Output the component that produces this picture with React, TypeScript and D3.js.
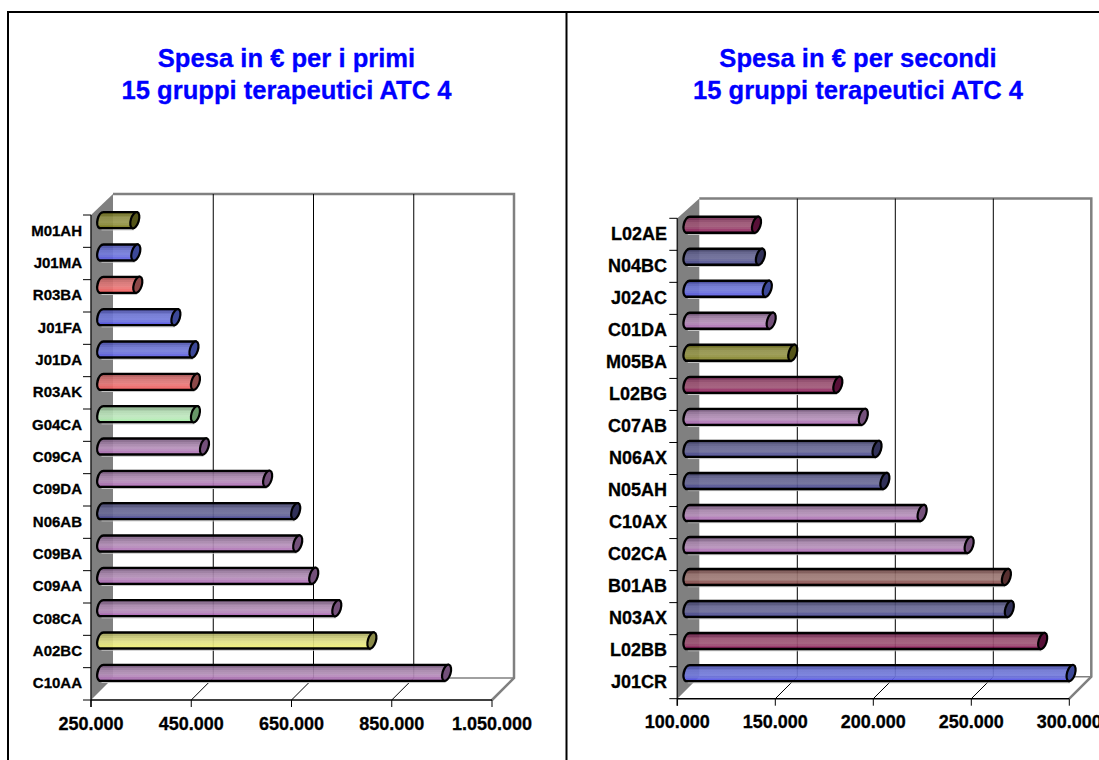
import React from "react";
import * as d3 from "d3";

const leftCategories = ["M01AH","J01MA","R03BA","J01FA","J01DA","R03AK","G04CA","C09CA","C09DA","N06AB","C09BA","C09AA","C08CA","A02BC","C10AA"];
const leftValues = [326,328,332,408,444,447,447,465,591,647,651,683,729,799,948];
const leftTicks = [250,450,650,850,1050];
const rightCategories = ["L02AE","N04BC","J02AC","C01DA","M05BA","L02BG","C07AB","N06AX","N05AH","C10AX","C02CA","B01AB","N03AX","L02BB","J01CR"];
const rightValues = [137.5,139.5,143,145,156,179,192,199,203,222,246,265,266.5,283.5,298];
const rightTicks = [100,150,200,250,300];

const palette: Record<string, string[]> = {
  C: ["#74567a","#a483a8","#b892bc","#ac68b4","#74507a"],
  A: ["#a0a058","#d0d07c","#e4e488","#f0f070","#8a8a48"],
  J: ["#4448a0","#6c74d0","#747cdc","#5656e4","#3c4898"],
  R: ["#a85252","#d47070","#e87c7c","#f25c5c","#8c4848"],
  G: ["#80a480","#b0d8b0","#c0e8c0","#a8eca8","#689868"],
  N: ["#404068","#646490","#6c6c98","#464690","#303058"],
  M: ["#666618","#909048","#98984e","#7e7e20","#545418"],
  L: ["#682048","#985070","#a05878","#8c1858","#581038"],
  B: ["#684040","#987470","#a07c78","#844444","#583030"],
};
const FONT = "'Liberation Sans', Arial, sans-serif";
const GREY = "#808080";
const fmt = (k: number) => d3.format(",.0f")(k * 1000).replace(/,/g, ".");

function Panel({ id, categories, values, ticks, x0, x1, bottom, top, backTop, depth, barDy, labelX, labelSize, tickY, title, titleX }: any) {
  const x = d3.scaleLinear().domain([ticks[0], ticks[ticks.length - 1]]).range([x0, x1]);
  const y = d3.scaleBand<string>().domain(categories).range([top, bottom]);
  const backBottom = bottom - depth;
  const inset = 5.7;
  return (
    <g fontFamily={FONT} fontWeight="bold">
      {title.map((t: string, i: number) => (
        <text key={t} x={titleX} y={67 + i * 32} textAnchor="middle" fontSize={25.6} fill="#0000ff" stroke="#0000ff" strokeWidth={0.3}>{t}</text>
      ))}
      <path d={`M${x0},${top}L${x0 + depth},${backTop}V${backBottom}L${x0},${bottom}Z`} fill={GREY} />
      <path d={`M${x0 + depth},${backTop}H${x1 + depth}V${backBottom}L${x1},${bottom}`} fill="none" stroke={GREY} strokeWidth={2.5} />
      <line x1={x0 + depth} x2={x1 + depth} y1={backBottom} y2={backBottom} stroke={GREY} strokeWidth={1.5} />
      {ticks.slice(1, -1).map((t: number) => (
        <g key={t} stroke="#000" strokeWidth={1}>
          <line x1={x(t) + depth} x2={x(t) + depth} y1={backTop} y2={backBottom} />
          <line x1={x(t)} x2={x(t) + depth} y1={bottom} y2={backBottom} />
        </g>
      ))}
      <line x1={x0} x2={x0} y1={top} y2={bottom + 7} stroke="#222" strokeWidth={1.5} />
      <line x1={x0} x2={x1} y1={bottom} y2={bottom} stroke="#000" strokeWidth={1.5} />
      {ticks.map((t: number) => (
        <g key={t}>
          <line x1={x(t)} x2={x(t)} y1={bottom} y2={bottom + 7} stroke="#000" strokeWidth={1} />
          <text x={x(t)} y={tickY} textAnchor="middle" fontSize={18} fill="#000" stroke="#000" strokeWidth={0.3}>{fmt(t)}</text>
        </g>
      ))}
      {[...categories, null].map((c: string | null, i: number) => {
        const yy = top + i * y.step();
        return <line key={i} x1={x0 - 8} x2={x0} y1={yy} y2={yy} stroke="#000" strokeWidth={1} />;
      })}
      {categories.map((c: string, i: number) => {
        const p = palette[c[0]];
        const cy = y(c)! + y.bandwidth() / 2 - barDy;
        const ex = x(values[i]) + inset;
        const sx = x0 + 10.5;
        const gid = `${id}-${c}`;
        const interp = d3.piecewise(d3.interpolateRgb, p.slice(0, 4));
        const n = 9;
        return (
          <g key={c}>
            <text x={labelX} y={y(c)! + y.bandwidth() / 2 + labelSize * 0.36 - 1} textAnchor="end" fontSize={labelSize} fill="#000" stroke="#000" strokeWidth={0.3}>{c}</text>
            <line x1={sx} x2={ex - 1} y1={cy + 9.7} y2={cy + 9.7} stroke="#c4c4c4" strokeWidth={1} />
            <defs>
              <linearGradient id={gid} x1="0" x2="0" y1="0" y2="1">
                {d3.range(n).flatMap((k) => [
                  <stop key={`a${k}`} offset={k / n} stopColor={interp(k / (n - 1))} />,
                  <stop key={`b${k}`} offset={(k + 1) / n} stopColor={interp(k / (n - 1))} />,
                ])}
              </linearGradient>
            </defs>
            <path
              d={`M${sx - 2},${cy + 8}A4.5,8.3 14 0 1 ${sx + 2},${cy - 8}H${ex + 2}L${ex - 2},${cy + 8}Z`}
              fill={`url(#${gid})`} fillOpacity={0.92} stroke="#000" strokeWidth={2.4} strokeLinejoin="round"
            />
            <ellipse cx={0} cy={0} rx={4} ry={8.4} transform={`translate(${ex},${cy}) rotate(17)`} fill={p[4]} stroke="#000" strokeWidth={2.2} />
          </g>
        );
      })}
    </g>
  );
}

export default function App() {
  return (
    <svg width={1099} height={760} style={{ position: "absolute", left: 0, top: 0, background: "#fff" }}>
      <Panel id="l" categories={leftCategories} values={leftValues} ticks={leftTicks} x0={91} x1={492} bottom={700} top={215} backTop={194} depth={22} barDy={11} labelX={82} labelSize={15} tickY={730}
        title={["Spesa in € per i primi", "15 gruppi terapeutici ATC 4"]} titleX={286.5} />
      <Panel id="r" categories={rightCategories} values={rightValues} ticks={rightTicks} x0={677.3} x1={1069.3} bottom={698.7} top={218.3} backTop={198.5} depth={22} barDy={9.6} labelX={667} labelSize={18} tickY={728}
        title={["Spesa in € per secondi", "15 gruppi terapeutici ATC 4"]} titleX={858} />
      <path d="M8,760V12H1099M566.5,12V760" fill="none" stroke="#000" strokeWidth={2} />
    </svg>
  );
}
